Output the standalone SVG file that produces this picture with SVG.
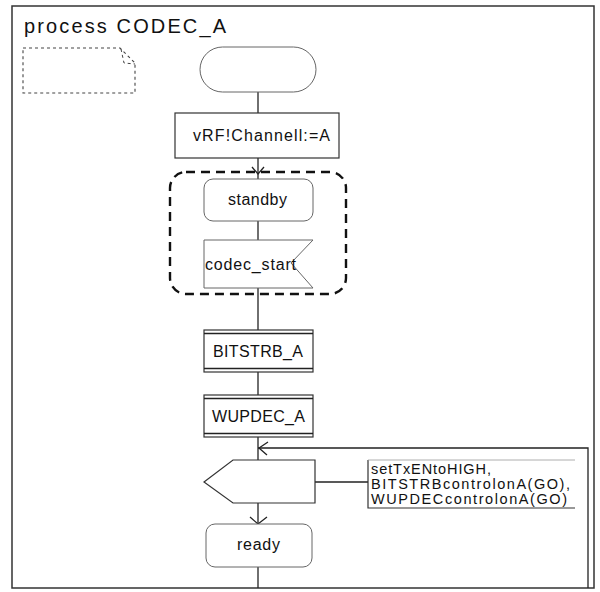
<svg xmlns="http://www.w3.org/2000/svg" width="600" height="592" viewBox="0 0 600 592">
<style>
text{font-family:"Liberation Sans",Arial,sans-serif;fill:#111}
.box{fill:#fff;stroke:#333;stroke-width:1.2}
.soft{fill:#fff;stroke:#666;stroke-width:1}
.ln{fill:none;stroke:#222;stroke-width:1.3}
.lbl{font-size:16px}
.cm{font-size:14.5px}
</style>
<rect width="600" height="592" fill="#fff"/>
<g id="frame">
<rect x="12" y="6" width="582" height="582" fill="none" stroke="#333" stroke-width="1.5"/>
<text x="24" y="33" font-size="20" textLength="202" lengthAdjust="spacing">process CODEC_A</text>
</g>
<g id="textsymbol">
<path d="M23,48 H120 L135,63 V93 H23 Z" fill="none" stroke="#444" stroke-width="1.1" stroke-dasharray="3,3"/>
<path d="M121,49 L124,63 L135,64" fill="none" stroke="#444" stroke-width="1" stroke-dasharray="3,3"/>
</g>
<g id="connectors">
<line class="ln" x1="258" y1="92" x2="258" y2="113"/>
<line class="ln" x1="258" y1="158" x2="258" y2="179"/>
<path class="ln" d="M252,167 L258,174 L264,167"/>
<line class="ln" x1="258" y1="221" x2="258" y2="240"/>
<line class="ln" x1="258" y1="288" x2="258" y2="330"/>
<line class="ln" x1="258" y1="372" x2="258" y2="395"/>
<line class="ln" x1="258" y1="437" x2="258" y2="460"/>
<polyline class="ln" points="258,448 588,448 588,588"/>
<path class="ln" d="M268,442 L259,448 L267,455"/>
<line class="ln" x1="258" y1="503" x2="258" y2="524"/>
<path class="ln" d="M250,517 L258,524 L267,517"/>
<line class="ln" x1="315" y1="482" x2="368" y2="482"/>
<line class="ln" x1="258" y1="567" x2="258" y2="588"/>
</g>
<g id="start">
<rect class="soft" x="200" y="47" width="116" height="45" rx="22.5"/>
</g>
<g id="task">
<rect class="box" x="175" y="113" width="164" height="45"/>
<text class="lbl" x="193" y="141" textLength="137" lengthAdjust="spacing">vRF!Channell:=A</text>
</g>
<g id="group">
<rect x="170" y="172" width="176" height="122" rx="16" fill="none" stroke="#111" stroke-width="2.4" stroke-dasharray="9,6"/>
</g>
<g id="standby">
<rect class="soft" x="204" y="179" width="109" height="42" rx="9"/>
<text class="lbl" x="228" y="205" textLength="59" lengthAdjust="spacing">standby</text>
</g>
<g id="codec_start">
<path class="soft" d="M204,240 H313 L291,263 L313,288 H204 Z"/>
<text class="lbl" x="205" y="270" textLength="91" lengthAdjust="spacing">codec_start</text>
</g>
<g id="bitstrb">
<rect class="box" x="204" y="330" width="109" height="42"/>
<line class="ln" x1="204" y1="333.5" x2="313" y2="333.5" stroke-width="1"/>
<line class="ln" x1="204" y1="368.5" x2="313" y2="368.5" stroke-width="1"/>
<text class="lbl" x="213" y="357" textLength="90" lengthAdjust="spacing">BITSTRB_A</text>
</g>
<g id="wupdec">
<rect class="box" x="204" y="395" width="109" height="42"/>
<line class="ln" x1="204" y1="398.5" x2="313" y2="398.5" stroke-width="1"/>
<line class="ln" x1="204" y1="433.5" x2="313" y2="433.5" stroke-width="1"/>
<text class="lbl" x="212" y="422" textLength="93" lengthAdjust="spacing">WUPDEC_A</text>
</g>
<g id="output">
<path class="box" d="M233,460 H315 V503 H233 L204,482 Z"/>
</g>
<g id="comment">
<path d="M368,460 V508 H575" fill="none" stroke="#333" stroke-width="1.2"/>
<line x1="368" y1="460" x2="575" y2="460" stroke="#999" stroke-width="0.8"/>
<text class="cm" x="371" y="474" textLength="120" lengthAdjust="spacing">setTxENtoHIGH,</text>
<text class="cm" x="371" y="489" textLength="199" lengthAdjust="spacing">BITSTRBcontrolonA(GO),</text>
<text class="cm" x="371" y="503.5" textLength="196" lengthAdjust="spacing">WUPDECcontrolonA(GO)</text>
</g>
<g id="ready">
<rect class="soft" x="206" y="524" width="106" height="43" rx="9"/>
<text class="lbl" x="237" y="550" textLength="43" lengthAdjust="spacing">ready</text>
</g>
</svg>
